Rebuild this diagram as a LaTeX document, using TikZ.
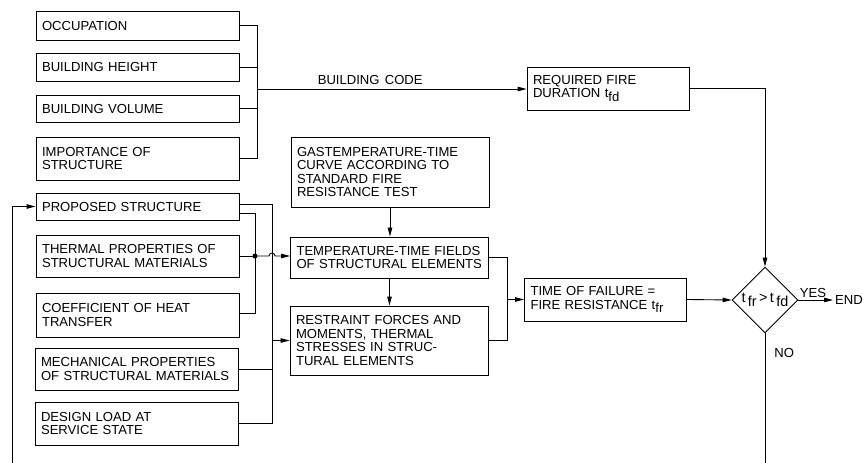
\documentclass[tikz,border=0pt]{standalone}
\usepackage{fontspec}
\setmainfont{Liberation Sans}
\usetikzlibrary{arrows.meta, shapes.geometric}
\newcommand\idx[1]{\raisebox{-0.5ex}{#1}}

\begin{document}
\begin{tikzpicture}[x=0.02cm, y=-0.02cm]
\def \flowfont {\fontsize{7.45}{7.6}\selectfont\spaceskip=0.4em plus 0.1em\relax}
\def \wleft {3.82cm}
\def \wmid {3.72cm}
\def \wright {3.00cm}
\tikzset{every node/.style = {font=\flowfont}}
\tikzset{box/.style = {shape=rectangle, draw, line width=0.5pt, align=left, inner xsep=0.12cm, inner ysep=0pt}}
\tikzset{edge/.style = {line width=0.5pt}}
\tikzset{arrow/.style = {edge, -{Triangle[length=1.8mm, width=0.9mm]}}}
\useasboundingbox (0,0) rectangle (863,463);
\node[box, text width=\wleft, minimum height=0.58cm](occ) at (137.5,25.5) {OCCUPATION};
\node[box, text width=\wleft, minimum height=0.56cm](hgt) at (137.5,67) {BUILDING HEIGHT};
\node[box, text width=\wleft, minimum height=0.54cm](vol) at (137.5,108.5) {BUILDING VOLUME};
\node[box, text width=\wleft, minimum height=0.86cm](imp) at (137.5,158.5) {IMPORTANCE OF\\STRUCTURE};
\node[box, text width=\wleft, minimum height=0.54cm](prop) at (137.5,206.5) {PROPOSED STRUCTURE};
\node[box, text width=\wleft, minimum height=0.84cm](therm) at (137.5,256) {THERMAL PROPERTIES OF\\STRUCTURAL MATERIALS};
\node[box, text width=\wleft, minimum height=0.88cm](coef) at (137.5,315) {COEFFICIENT OF HEAT\\TRANSFER};
\node[box, text width=\wleft, minimum height=0.84cm](mech) at (136.5,369) {MECHANICAL PROPERTIES\\OF STRUCTURAL MATERIALS};
\node[box, text width=\wleft, minimum height=0.86cm](load) at (136.5,423.5) {DESIGN LOAD AT\\SERVICE STATE};
\node[box, text width=\wmid, minimum height=1.40cm](gas) at (390,172) {GASTEMPERATURE-TIME\\CURVE ACCORDING TO\\STANDARD FIRE\\RESISTANCE TEST};
\node[box, text width=\wmid, minimum height=0.82cm](temp) at (389.5,257.5) {TEMPERATURE-TIME FIELDS\\OF STRUCTURAL ELEMENTS};
\node[box, text width=\wmid, minimum height=1.38cm](restr) at (389,340.5) {RESTRAINT FORCES AND\\MOMENTS, THERMAL\\STRESSES IN STRUC-\\TURAL ELEMENTS};
\node[box, text width=\wright, minimum height=0.86cm](req) at (608,88.5) {REQUIRED FIRE\\DURATION t\idx{fd}};
\node[box, text width=\wright, minimum height=0.86cm](fail) at (605.5,299.5) {TIME OF FAILURE =\\FIRE RESISTANCE t\idx{fr}};
\node[shape=diamond, draw, line width=0.5pt, aspect=1, inner sep=0pt, minimum width=1.32cm, minimum height=1.32cm, font=\fontsize{8.2}{9}\selectfont](dec) at (765,300) {t\,\idx{fr}\,>\,t\,\idx{fd}};
\node[anchor=west, inner sep=1pt](end) at (833,300) {END};
\coordinate (bc) at (257,89);
\coordinate (jt) at (255,256);
\coordinate (rj) at (272,340.5);
\coordinate (hop) at (272,256);
\coordinate (fj) at (507,299.5);
\coordinate (no) at (765,463);
\coordinate (fb) at (12,463);
\draw[edge] (occ.east) -| (bc);
\draw[edge] (imp.east) -| (bc);
\draw[edge] (hgt.east) -- (hgt.east -| bc);
\draw[edge] (vol.east) -- (vol.east -| bc);
\draw[arrow] (bc) -- node[above, pos=0.42, inner sep=2pt](code) {BUILDING CODE} (bc -| req.west);
\draw[edge] ([yshift=0.05cm]prop.east) -| (rj);
\draw[edge] (load.east) -| (rj);
\draw[edge] (mech.east) -- (mech.east -| rj);
\draw[arrow] (rj) -- (restr.west);
\draw[edge] ([yshift=-0.13cm]prop.east) -| (jt);
\draw[edge] ([yshift=0.04cm]coef.east) -| (jt);
\draw[edge] (therm.east) -- (jt);
\fill (jt) circle[radius=0.05cm];
\draw[arrow] (jt) -- ([xshift=-0.06cm]hop) arc[start angle=180, end angle=0, radius=0.06cm] -- (jt -| temp.west);
\draw[arrow] (gas.south) -- (gas.south |- temp.north);
\draw[arrow] (temp.south) -- (temp.south |- restr.north);
\draw[edge] (temp.east) -| (fj);
\draw[edge] (restr.east) -| (fj);
\draw[arrow] (fj) -- (fail.west);
\draw[arrow] (req.east) -| (dec.north);
\draw[arrow] (fail.east) -- (dec.west);
\draw[arrow] (dec.east) -- node[above, pos=0.42, inner sep=1pt](yes) {YES} (end.west);
\draw[edge] (dec.south) -- node[right, pos=0.15, xshift=0.06cm](nolabel) {NO} (no);
\draw[arrow] (fb) |- (prop.west);
\end{tikzpicture}
\end{document}
